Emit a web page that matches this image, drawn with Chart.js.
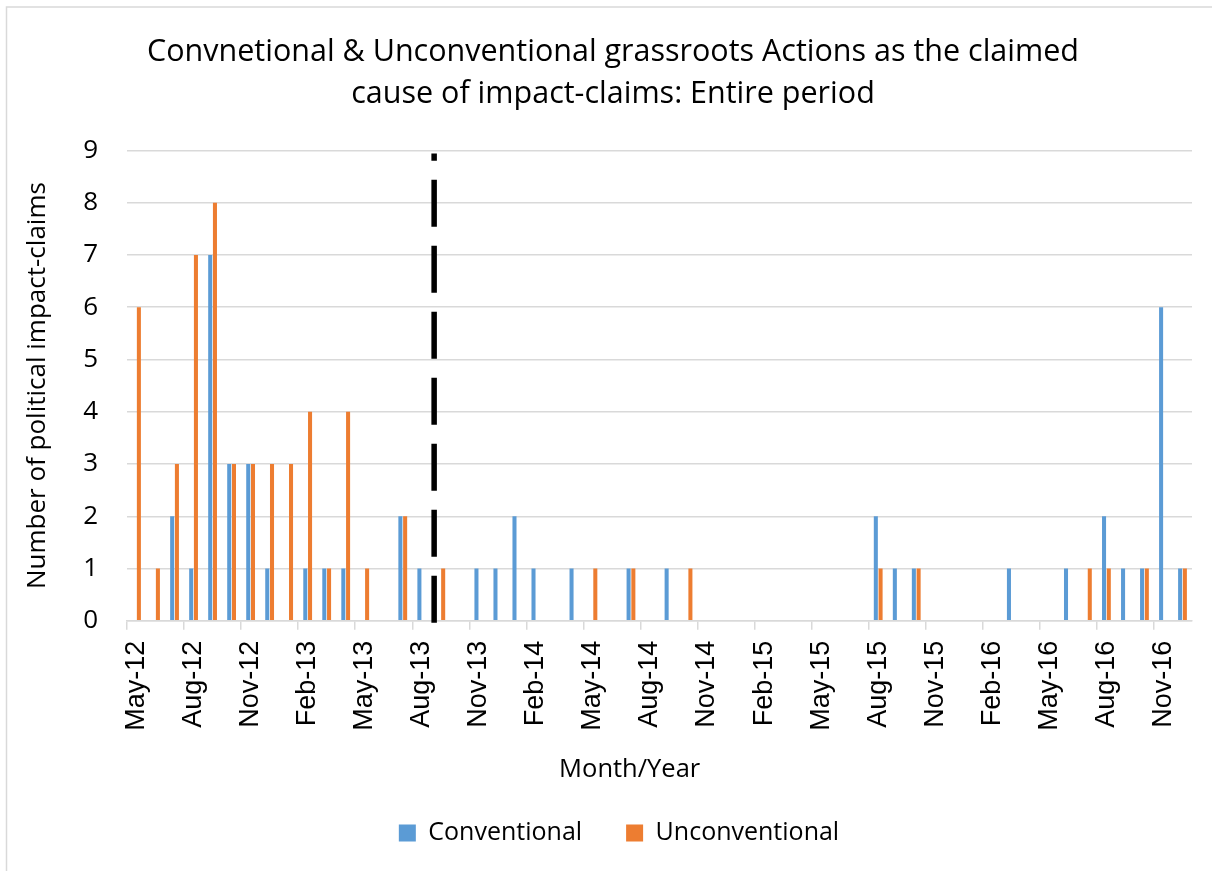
<!DOCTYPE html>
<html>
<head>
<meta charset="utf-8">
<script src="https://cdn.jsdelivr.net/npm/chart.js@4.4.0/dist/chart.umd.min.js"></script>
<style>
  html, body { margin: 0; padding: 0; background: #fff; }
  canvas { display: block; }
</style>
</head>
<body>
<canvas id="claims" width="1212" height="871"></canvas>
<script>
// months, May-12 .. Dec-16
const months = [
  'May-12', 'Jun-12', 'Jul-12', 'Aug-12', 'Sep-12', 'Oct-12', 'Nov-12', 'Dec-12',
  'Jan-13', 'Feb-13', 'Mar-13', 'Apr-13', 'May-13', 'Jun-13', 'Jul-13', 'Aug-13',
  'Sep-13', 'Oct-13', 'Nov-13', 'Dec-13', 'Jan-14', 'Feb-14', 'Mar-14', 'Apr-14',
  'May-14', 'Jun-14', 'Jul-14', 'Aug-14', 'Sep-14', 'Oct-14', 'Nov-14', 'Dec-14',
  'Jan-15', 'Feb-15', 'Mar-15', 'Apr-15', 'May-15', 'Jun-15', 'Jul-15', 'Aug-15',
  'Sep-15', 'Oct-15', 'Nov-15', 'Dec-15', 'Jan-16', 'Feb-16', 'Mar-16', 'Apr-16',
  'May-16', 'Jun-16', 'Jul-16', 'Aug-16', 'Sep-16', 'Oct-16', 'Nov-16', 'Dec-16'
];

const conventional = [
  0, 0, 2, 1, 7, 3, 3, 1,
  0, 1, 1, 1, 0, 0, 2, 1,
  0, 0, 1, 1, 2, 1, 0, 1,
  0, 0, 1, 0, 1, 0, 0, 0,
  0, 0, 0, 0, 0, 0, 0, 2,
  1, 1, 0, 0, 0, 0, 1, 0,
  0, 1, 0, 2, 1, 1, 6, 1
];

const unconventional = [
  6, 1, 3, 7, 8, 3, 3, 3,
  3, 4, 1, 4, 1, 0, 2, 0,
  1, 0, 0, 0, 0, 0, 0, 0,
  1, 0, 1, 0, 0, 1, 0, 0,
  0, 0, 0, 0, 0, 0, 0, 1,
  0, 1, 0, 0, 0, 0, 0, 0,
  0, 0, 1, 1, 0, 1, 0, 1
];

const yTicks = [0, 1, 2, 3, 4, 5, 6, 7, 8, 9];

// dashed divider sits a bit past Aug-13 (category units)
const dividerAt = 15.65;

const grey = '#d9d9d9';
const legendShift = 18; // excel legend sits a little right of canvas centre
const titleShift = 12;

Chart.defaults.font.family = "'Open Sans', sans-serif";
Chart.defaults.color = '#000';

// white background + thin frame
const framePlugin = {
  id: 'frame',
  beforeDraw(chart) {
    const ctx = chart.ctx;
    ctx.save();
    ctx.fillStyle = '#fff';
    ctx.fillRect(0, 0, chart.width, chart.height);
    ctx.strokeStyle = grey;
    ctx.lineWidth = 1.5;
    ctx.strokeRect(6.5, 7, chart.width + 20, chart.height + 20);
    ctx.restore();
  },
  afterLayout(chart) {
    chart.legend.left += legendShift;
    chart.legend.right += legendShift;
    chart.titleBlock.left += titleShift;
    chart.titleBlock.right += titleShift;
  }
};

// the black dashed vertical line
const dividerPlugin = {
  id: 'divider',
  afterDatasetsDraw(chart) {
    const x = chart.scales.x;
    const y = chart.scales.y;
    const i = Math.floor(dividerAt);
    const px = x.getPixelForValue(i) + (dividerAt - i) * (x.getPixelForValue(i + 1) - x.getPixelForValue(i));
    const ctx = chart.ctx;
    ctx.save();
    ctx.strokeStyle = '#000';
    ctx.lineWidth = 5.5;
    ctx.setLineDash([47, 19]);
    ctx.beginPath();
    ctx.moveTo(px, y.getPixelForValue(0) + 2);
    ctx.lineTo(px, y.getPixelForValue(8.94));
    ctx.stroke();
    ctx.restore();
  }
};

new Chart(document.getElementById('claims'), {
  type: 'bar',
  data: {
    labels: months,
    datasets: [
      {
        label: 'Conventional',
        data: conventional,
        backgroundColor: '#5B9BD5',
        categoryPercentage: 0.5,
        barPercentage: 0.85
      },
      {
        label: 'Unconventional',
        data: unconventional,
        backgroundColor: '#ED7D31',
        categoryPercentage: 0.5,
        barPercentage: 0.85
      }
    ]
  },
  options: {
    responsive: false,
    animation: false,
    devicePixelRatio: 1,
    layout: { padding: { top: 10, left: 10, right: 20, bottom: 15.5 } },
    plugins: {
      title: {
        display: true,
        text: ['Convnetional & Unconventional grassroots Actions as the claimed', 'cause of impact-claims: Entire period'],
        font: { size: 30.5, weight: 'normal', lineHeight: 1.4 },
        color: '#000',
        padding: { top: 20.5, bottom: 34.5 }
      },
      legend: {
        position: 'bottom',
        labels: {
          boxWidth: 17,
          boxHeight: 17,
          padding: 44,
          font: { size: 25 },
          color: '#000'
        }
      },
      tooltip: { enabled: false }
    },
    scales: {
      x: {
        afterFit: (s) => { s.height = 155.7; s.paddingLeft = 0; s.paddingRight = 0; },
        grid: {
          drawOnChartArea: false,
          drawTicks: true,
          tickLength: 9,
          lineWidth: 1.5,
          color: (c) => (c.index % 3 === 0 ? grey : 'rgba(0,0,0,0)')
        },
        border: { display: true, color: grey, width: 1.5 },
        ticks: {
          autoSkip: false,
          minRotation: 90,
          maxRotation: 90,
          padding: 11,
          font: { family: "'Liberation Sans', Arial, sans-serif", size: 27 },
          color: '#000',
          callback: function (v, i) { return i % 3 === 0 ? months[i] : ''; }
        },
        title: {
          display: true,
          text: 'Month/Year         ',
          font: { size: 25.5, lineHeight: 0.5 },
          color: '#000',
          padding: 0
        }
      },
      y: {
        min: yTicks[0],
        max: yTicks[yTicks.length - 1],
        afterFit: (s) => { s.width = 117; },
        afterBuildTicks: (s) => { s.ticks = yTicks.map((v) => ({ value: v })); },
        grid: { color: grey, lineWidth: 1.5, drawTicks: false },
        border: { display: false },
        ticks: { padding: 29, font: { size: 26 }, color: '#000' },
        title: {
          display: true,
          text: 'Number of political impact-claims',
          font: { size: 26, lineHeight: 1.2 },
          color: '#000',
          padding: { top: 12, bottom: 0 }
        }
      }
    }
  },
  plugins: [framePlugin, dividerPlugin]
});
</script>
</body>
</html>
